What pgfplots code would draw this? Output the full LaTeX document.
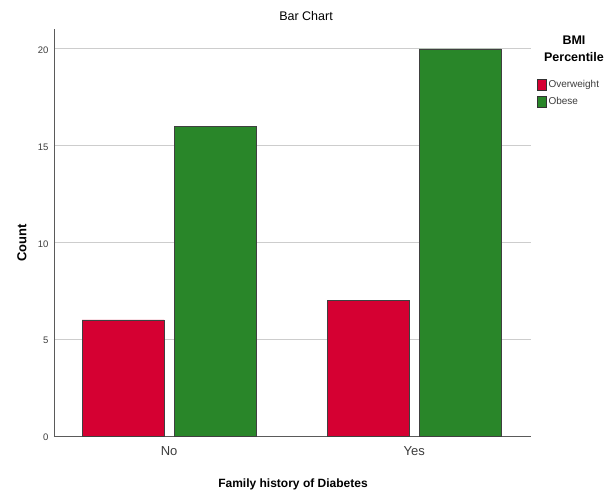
\documentclass[border=0pt]{standalone}
\usepackage{pgfplots}
\pgfplotsset{compat=1.18}
\usepackage{fontspec}
\setmainfont{Liberation Sans}
\definecolor{spssred}{RGB}{213,0,50}
\definecolor{spssgreen}{RGB}{41,134,41}
\definecolor{axgray}{RGB}{90,90,90}
\definecolor{gridgray}{RGB}{205,205,205}
\definecolor{txtgray}{RGB}{60,60,60}
\begin{document}
\begin{tikzpicture}[x=1pt,y=1pt]
\path[use as bounding box] (0,0) rectangle (613,496);
\begin{axis}[
  at={(54pt,60pt)}, anchor=south west,
  scale only axis, width=477pt, height=407pt,
  xmin=-0.47, xmax=1.477, ymin=0, ymax=21.03,
  axis x line*=bottom, axis y line*=left,
  axis line style={axgray, line width=0.9pt},
  x axis line style={-}, y axis line style={-},
  xtick={0,1}, xticklabels={No,Yes},
  ytick={0,5,10,15,20},
  major tick length=0pt,
  ymajorgrids, grid style={gridgray, line width=0.9pt},
  /pgf/number format/assume math mode=true,
  yticklabel style={font=\fontsize{9.5}{10}\selectfont, text=txtgray, xshift=-2pt, yshift=-1.5pt},
  xticklabel style={font=\fontsize{13}{14}\selectfont, text=txtgray, yshift=-7pt},
  bar width=0.335,
  legend style={at={(1.0126,0.878)}, anchor=north west, draw=none, fill=none,
    font=\fontsize{10}{11}\selectfont, text=txtgray, row sep=4pt,
    inner sep=0pt, outer sep=0pt},
  legend cell align=left,
  legend image code/.code={\draw[#1, draw=black!80, line width=0.5pt] (0pt,-5.5pt) rectangle (9pt,5.5pt);},
  clip=false,
]
\addplot[ybar, bar shift=-0.188, fill=spssred, draw=black!75, line width=0.6pt] coordinates {(0,6) (1,7)};
\addplot[ybar, bar shift=0.188, fill=spssgreen, draw=black!75, line width=0.6pt] coordinates {(0,16) (1,20)};
\legend{Overweight,Obese}
\end{axis}
\node[font=\fontsize{12.5}{14}\selectfont] at (306,480) {Bar Chart};
\node[font=\bfseries\fontsize{13}{15}\selectfont, rotate=90] at (22,253) {Count};
\node[font=\bfseries\fontsize{12}{14}\selectfont] at (293,12) {Family history of Diabetes};
\node[font=\bfseries\fontsize{12.5}{17}\selectfont, align=center, anchor=center] at (574,447) {BMI\\Percentile};
\end{tikzpicture}
\end{document}
